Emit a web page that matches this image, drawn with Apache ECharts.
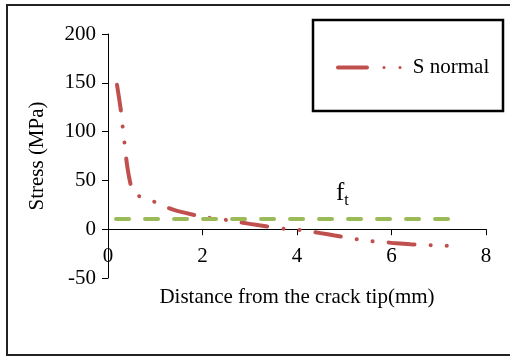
<!DOCTYPE html>
<html><head><meta charset="utf-8">
<script src="https://cdn.jsdelivr.net/npm/echarts@6/dist/echarts.min.js"></script>
<style>html,body{margin:0;padding:0;background:#fff}#c{width:510px;height:356px}</style>
</head><body><div id="c"></div>
<script>
var distance = [0.19, 0.28, 0.32, 0.36, 0.40, 0.46, 0.53, 0.65, 0.85, 1.16, 1.48, 2.1, 2.5, 2.8, 3.2, 3.8, 4.1, 4.5, 4.8, 5.5, 5.8, 6.1, 6.4, 7.2];
var sNormal  = [148, 119, 100, 84, 67, 50, 38, 34, 31, 24, 18.5, 12, 9.5, 7, 4, 0, -1, -4, -6.5, -12, -13, -14.5, -15.5, -17];
var ftX = [0.17, 7.24];
var ftY = [10.5, 10.5];
var xTicks = [0, 2, 4, 6, 8];
var yTicks = [-50, 0, 50, 100, 150, 200];

var font = 'Liberation Serif';
var chart = echarts.init(document.getElementById('c'));
chart.setOption({
  animation: false,
  textStyle: {fontFamily: font},
  grid: {left: 108, right: 24, top: 34, bottom: 78, containLabel: false, outerBoundsMode: 'none'},
  legend: {
    data: ['S normal'], left: 331, top: 52, itemWidth: 66, itemHeight: 4, itemGap: 11,
    icon: 'path://M2,2 h29 a2,2 0 0,1 0,4 h-29 a2,2 0 0,1 0,-4z M46.4,4 a1.6,1.6 0 1,0 3.2,0 a1.6,1.6 0 1,0 -3.2,0z M62.4,4 a1.6,1.6 0 1,0 3.2,0 a1.6,1.6 0 1,0 -3.2,0z',
    itemStyle: {color: '#C0504D', borderWidth: 0},
    textStyle: {fontFamily: font, fontSize: 21, color: '#000', padding: [0, 0, 0, 6]}
  },
  xAxis: {
    type: 'value', min: xTicks[0], max: xTicks[xTicks.length-1], interval: 2,
    name: 'Distance from the crack tip(mm)', nameLocation: 'middle', nameGap: 9,
    nameTextStyle: {fontFamily: font, fontSize: 21, color: '#000'},
    axisLine: {onZero: true, lineStyle: {color: '#000', width: 1}},
    axisTick: {show: true, length: 6, lineStyle: {color: '#000'}},
    axisLabel: {fontFamily: font, fontSize: 21, color: '#000', margin: -32},
    splitLine: {show: false}
  },
  yAxis: {
    type: 'value', min: yTicks[0], max: yTicks[yTicks.length-1], interval: 50,
    name: 'Stress (MPa)', nameLocation: 'middle', nameGap: 60, nameRotate: 90,
    nameTextStyle: {fontFamily: font, fontSize: 21, color: '#000'},
    axisLine: {show: true, lineStyle: {color: '#000', width: 1}},
    axisTick: {show: true, length: 6, lineStyle: {color: '#000'}},
    axisLabel: {fontFamily: font, fontSize: 21, color: '#000', margin: 12},
    splitLine: {show: false}
  },
  series: [
    {
      name: 'S normal', type: 'line', smooth: 0.3, showSymbol: false, symbol: 'none',
      data: distance.map(function(d, i){ return [d, sNormal[i]]; }),
      lineStyle: {color: '#C0504D', width: 4, type: [26, 16, 0.1, 16, 0.1, 16], cap: 'round'},
      itemStyle: {color: '#C0504D'}
    },
    {
      name: 'ft', type: 'line', showSymbol: false, symbol: 'none',
      data: ftX.map(function(d, i){ return [d, ftY[i]]; }),
      lineStyle: {color: '#9BBB59', width: 4, type: [13, 16], cap: 'round'},
      itemStyle: {color: '#9BBB59'}
    }
  ],
  graphic: [
    {type: 'rect', shape: {x: 7, y: 5, width: 520, height: 350}, style: {fill: 'none', stroke: '#222', lineWidth: 2}, silent: true},
    {type: 'rect', shape: {x: 313, y: 20, width: 190, height: 91}, style: {fill: 'none', stroke: '#000', lineWidth: 2.5}, silent: true},
    {type: 'text', left: 336, top: 181, style: {
      text: '{f|f}{t|t}', rich: {
        f: {fontFamily: font, fontSize: 25, fill: '#000'},
        t: {fontFamily: font, fontSize: 16, fill: '#000', verticalAlign: 'bottom', padding: [14, 0, 0, 0]}
      }}}
  ]
});
</script></body></html>
